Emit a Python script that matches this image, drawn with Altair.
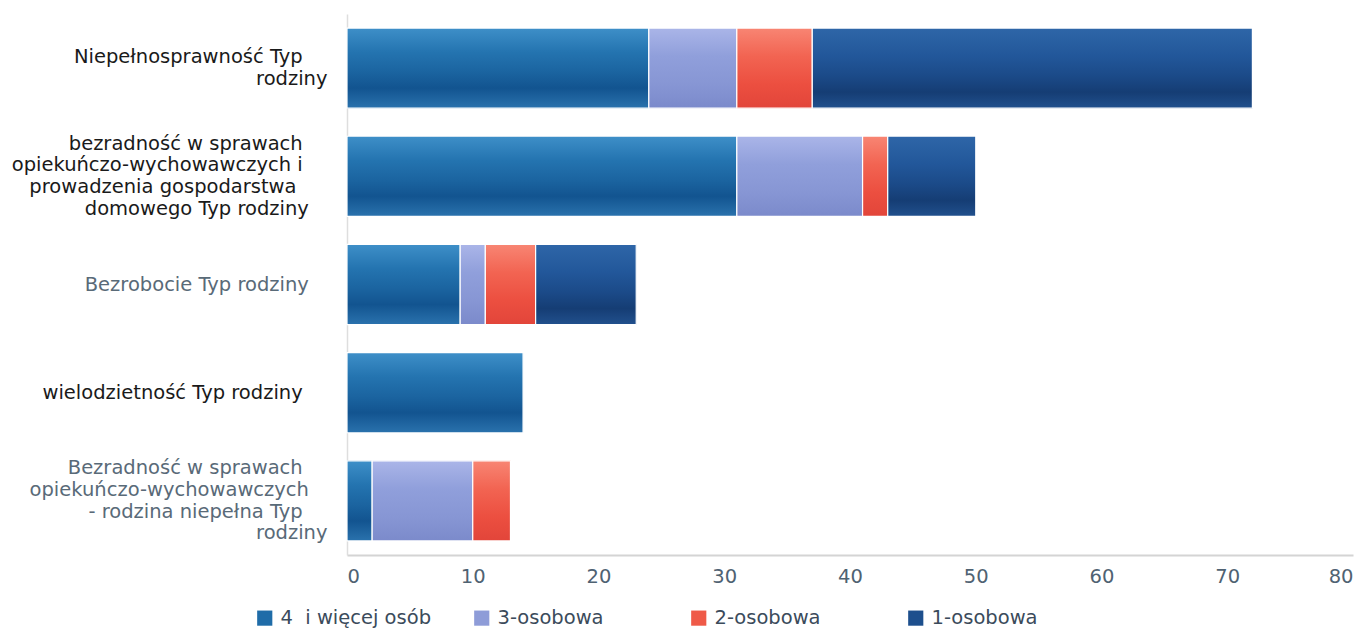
import altair as alt
import pandas as pd

NB = "\u00a0"
ZW = "\u200b"


def pad(n):
    return NB * n + ZW


FONT = "DejaVu Sans"

# category labels (line-wrapped as in the reference)
cat_lines = [
    ["Niepełnosprawność Typ" + pad(4), "rodziny"],
    ["bezradność w sprawach" + pad(4), "opiekuńczo-wychowawczych i" + pad(4),
     "prowadzenia gospodarstwa" + pad(5), "domowego Typ rodziny" + pad(3)],
    ["Bezrobocie Typ rodziny" + pad(3)],
    ["wielodzietność Typ rodziny" + pad(4)],
    ["Bezradność w sprawach" + pad(4), "opiekuńczo-wychowawczych" + pad(3),
     "- rodzina niepełna Typ" + pad(4), "rodziny"],
]
categories = ["|".join(l) for l in cat_lines]
slate_cats = [categories[2], categories[4]]

series = ["4" + NB + " i więcej osób", "3-osobowa", "2-osobowa", "1-osobowa"]
v_4plus = [24, 31, 9, 14, 2]
v_3 = [7, 10, 2, 0, 8]
v_2 = [6, 2, 4, 0, 3]
v_1 = [35, 7, 8, 0, 0]

base_colors = ["#1f6ca8", "#8e9cd8", "#ef5a48", "#1d4f8d"]
grad_stops = [
    [("#3e8fc8", 0), ("#2474b0", 0.3), ("#1b64a0", 0.55), ("#125490", 0.75), ("#2a72ad", 1)],
    [("#aab5e8", 0), ("#909fdb", 0.35), ("#8796d4", 0.7), ("#7b8acb", 1)],
    [("#f88573", 0), ("#f26452", 0.35), ("#ec4f40", 0.7), ("#e2453a", 1)],
    [("#2e66a8", 0), ("#22579a", 0.35), ("#1b4a88", 0.6), ("#153d74", 0.8), ("#21508d", 1)],
]

rows = []
for vals, s_i in zip([v_4plus, v_3, v_2, v_1], range(4)):
    for c, v in zip(categories, vals):
        rows.append({"cat": c, "series": series[s_i], "order": s_i, "value": v})
df = pd.DataFrame(rows)

base = (
    alt.Chart(df)
    .transform_filter("datum.value > 0")
    .transform_stack(stack="value", groupby=["cat"], as_=["x0", "x1"],
                     sort=[alt.SortField("order", order="ascending")])
)

LINE_H = 21.7
y_enc = alt.Y(
    "cat:N", sort=categories, title=None,
    scale=alt.Scale(paddingInner=0.26, paddingOuter=0.13),
    axis=alt.Axis(
        labelExpr="split(datum.label, '|')",
        labelFontSize=19.5, labelFont=FONT, labelLineHeight=LINE_H,
        labelColor=alt.condition(
            "datum.value == '" + slate_cats[0] + "' || datum.value == '" + slate_cats[1] + "'",
            alt.value("#596a78"), alt.value("#1a1a1a")),
        labelOffset={
            "condition": [
                {"test": "length(split(datum.value, '|')) == 2", "value": -LINE_H / 2},
                {"test": "length(split(datum.value, '|')) == 4", "value": -1.5 * LINE_H},
            ],
            "value": 0,
        },
        labelPadding=20, labelLimit=400, ticks=False,
        domainColor="#dedede", domainWidth=1.5,
    ),
)
x_enc = alt.X(
    "x0:Q", title=None,
    scale=alt.Scale(domain=[0, 80], nice=False),
    axis=alt.Axis(values=list(range(0, 81, 10)), grid=False, ticks=False,
                  labelFontSize=19.5, labelFont=FONT, labelColor="#4f6272",
                  labelPadding=12, domainColor="#d4d4d4", domainWidth=2),
)

legend_layer = base.mark_bar().encode(
    y=y_enc, x=x_enc, x2="x1:Q",
    color=alt.Color(
        "series:N", sort=series,
        scale=alt.Scale(domain=series, range=base_colors),
        legend=alt.Legend(
            title=None, orient="none", direction="horizontal", columns=4,
            gridAlign="all", columnPadding=40, legendX=-92, legendY=594,
            symbolType="square", symbolSize=230, symbolStrokeWidth=0,
            labelFontSize=19.5, labelFont=FONT, labelColor="#3b4b5b",
            labelOffset=6, labelLimit=300,
        ),
    ),
)

layers = [legend_layer]
for s_i, s in enumerate(series):
    grad = alt.Gradient(
        gradient="linear", x1=0, y1=0, x2=0, y2=1,
        stops=[alt.GradientStop(color=c, offset=o) for c, o in grad_stops[s_i]],
    )
    layers.append(
        base.transform_filter(alt.datum.series == s)
        .mark_bar(fill=grad, stroke="white", strokeWidth=1.2)
        .encode(y=y_enc, x=x_enc, x2="x1:Q")
    )

chart = (
    alt.layer(*layers)
    .properties(
        width=1006, height=541,
        background="white",
        autosize=alt.AutoSizeParams(type="none"),
        padding={"left": 339, "top": 6, "right": 10, "bottom": 73},
    )
    .configure_view(stroke="transparent", strokeWidth=0)
)

chart.save("out.html", embed_options={"renderer": "svg", "actions": False})
